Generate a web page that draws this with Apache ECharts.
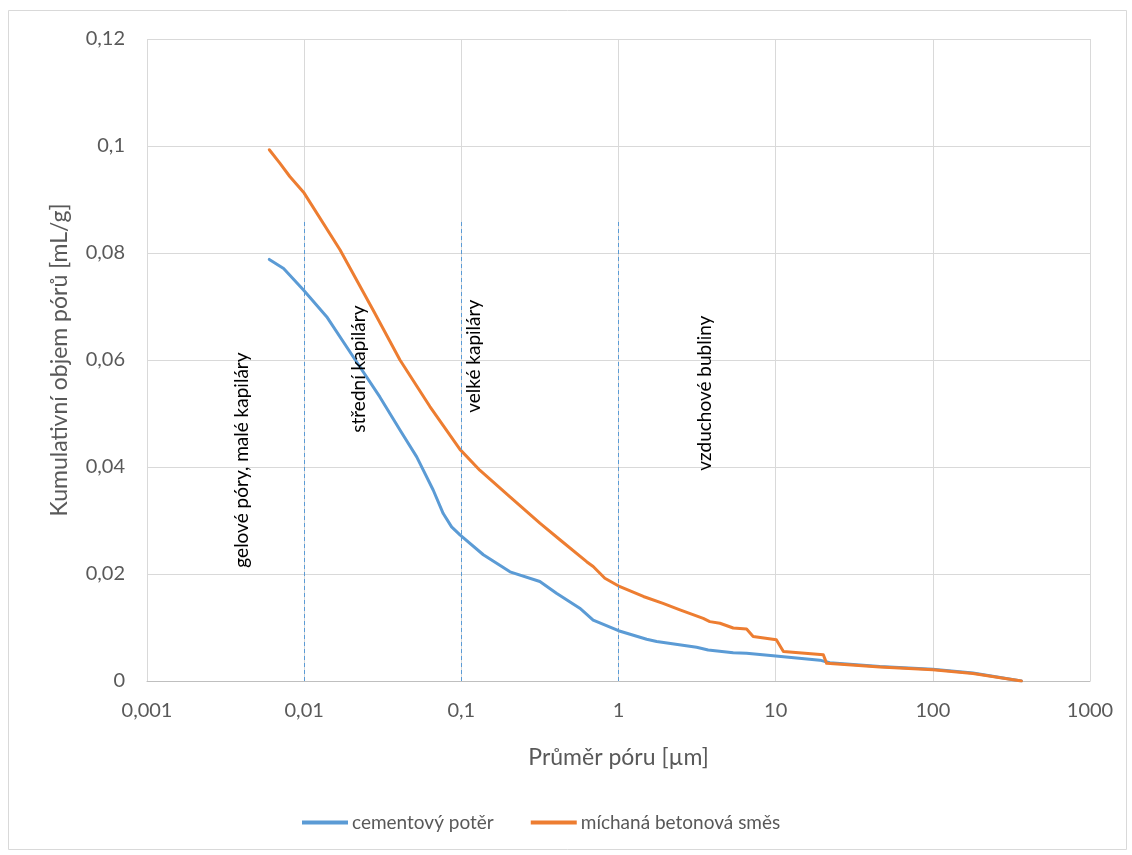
<!DOCTYPE html>
<html>
<head>
<meta charset="utf-8">
<script src="https://cdn.jsdelivr.net/npm/echarts@6.0.0/dist/echarts.min.js"></script>
<style>
  html, body { margin: 0; padding: 0; background: #fff; }
  #chart { width: 1132px; height: 855px; }
</style>
</head>
<body>
<div id="chart"></div>
<script>
// cementový potěr (blue)
var blueDiam = [0.0060, 0.0074, 0.0099, 0.0139, 0.0205, 0.0303, 0.0407, 0.0520, 0.0662, 0.0767,
  0.0867, 0.098, 0.138, 0.204, 0.316, 0.403, 0.567, 0.690, 1.0, 1.51, 1.75, 3.14, 3.72, 5.37,
  6.53, 9.64, 19.1, 22.1, 46, 100, 180, 366];
var blueVol = [0.0788, 0.0771, 0.0731, 0.0681, 0.0606, 0.0531, 0.0469, 0.0419, 0.0357, 0.0313,
  0.0288, 0.0273, 0.0236, 0.0204, 0.0186, 0.0164, 0.0136, 0.0114, 0.0094, 0.0078, 0.0074, 0.0063, 0.0058, 0.0053,
  0.0052, 0.0047, 0.0039, 0.0034, 0.0027, 0.0022, 0.0015, 0.0];

// míchaná betonová směs (orange)
var orangeDiam = [0.0060, 0.0070, 0.0081, 0.0100, 0.0169, 0.0275, 0.0407, 0.0631, 0.098, 0.131,
  0.204, 0.316, 0.424, 0.627, 0.690, 0.819, 0.995, 1.44, 1.92, 2.46, 3.46, 3.81, 4.42, 5.37,
  6.53, 7.19, 10.1, 11.2, 20.1, 21.1, 46, 100, 180, 366];
var orangeVol = [0.0993, 0.0968, 0.0943, 0.0912, 0.0806, 0.0693, 0.0600, 0.0513, 0.0433, 0.0394,
  0.0344, 0.0295, 0.0264, 0.0223, 0.0214, 0.0192, 0.0178, 0.0158, 0.0145, 0.0133, 0.0117, 0.0111, 0.0108, 0.0099,
  0.0097, 0.0083, 0.0077, 0.0055, 0.0049, 0.0033, 0.0026, 0.0021, 0.0014, 0.0];

// pore class boundaries and labels
var boundaries = [0.01, 0.1, 1];
var boundaryTop = 0.086;
var regionNames = ['gelové póry, malé kapiláry', 'střední kapiláry', 'velké kapiláry', 'vzduchové bubliny'];
var regionDiam = [0.00402, 0.0223, 0.120, 3.55];
var regionVol = [0.0413, 0.0583, 0.0607, 0.0538];

var seriesNames = ['cementový potěr', 'míchaná betonová směs'];

function pairs(xs, ys) {
  return xs.map(function (x, i) { return [x, ys[i]]; });
}
function comma(v) {
  return String(Number(v.toPrecision(6))).replace('.', ',');
}

var font = 'Lato, "Open Sans", sans-serif';
var chart = echarts.init(document.getElementById('chart'));

chart.setOption({
  animation: false,
  backgroundColor: '#fff',
  textStyle: { fontFamily: font },
  graphic: [{
    type: 'rect',
    shape: { x: 8.5, y: 10.5, width: 1118, height: 839 },
    style: { fill: 'none', stroke: '#d9d9d9', lineWidth: 1 },
    silent: true
  }],
  grid: { left: 147, right: 42, top: 39, bottom: 174 },
  legend: {
    data: seriesNames,
    left: 297,
    top: 808,
    icon: 'rect',
    itemWidth: 46,
    itemHeight: 4,
    itemGap: 37,
    textStyle: { color: '#595959', fontSize: 19, fontFamily: font, padding: [0, 0, 0, -1] }
  },
  xAxis: {
    type: 'log',
    logBase: 10,
    min: 0.001,
    max: 1000,
    name: 'Průměr póru [µm]',
    nameLocation: 'middle',
    nameGap: 65,
    nameTextStyle: { color: '#595959', fontSize: 23, fontFamily: font },
    axisLine: { show: true, lineStyle: { color: '#bfbfbf', width: 1 } },
    axisTick: { show: false },
    axisLabel: { color: '#595959', fontSize: 20, margin: 20, formatter: comma },
    splitLine: { show: true, lineStyle: { color: '#d9d9d9', width: 1 } },
    minorTick: { show: false }
  },
  yAxis: {
    type: 'value',
    min: 0,
    max: 0.12,
    interval: 0.02,
    name: 'Kumulativní objem pórů [mL/g]',
    nameLocation: 'middle',
    nameGap: 76,
    nameTextStyle: { color: '#595959', fontSize: 23, fontFamily: font },
    axisLine: { show: false },
    axisTick: { show: false },
    axisLabel: { color: '#595959', fontSize: 20, margin: 22, formatter: comma },
    splitLine: { show: true, lineStyle: { color: '#d9d9d9', width: 1 } }
  },
  series: [{
    name: seriesNames[0],
    type: 'line',
    data: pairs(blueDiam, blueVol),
    showSymbol: false,
    symbol: 'none',
    lineStyle: { color: '#5b9bd5', width: 3, cap: 'round', join: 'round' },
    itemStyle: { color: '#5b9bd5' },
    z: 3,
    markLine: {
      silent: true,
      symbol: ['none', 'none'],
      label: { show: false },
      lineStyle: { color: '#5b9bd5', width: 1, type: [4, 3] },
      data: boundaries.map(function (b) {
        return [{ coord: [b, 0] }, { coord: [b, boundaryTop] }];
      })
    },
    markPoint: {
      silent: true,
      symbol: 'rect',
      symbolSize: 1,
      itemStyle: { color: 'rgba(0,0,0,0)' },
      label: {
        show: true,
        position: 'inside',
        rotate: 90,
        color: '#000',
        fontSize: 19,
        fontFamily: font,
        formatter: function (p) { return p.name; }
      },
      data: regionNames.map(function (n, i) {
        return { name: n, coord: [regionDiam[i], regionVol[i]] };
      })
    }
  }, {
    name: seriesNames[1],
    type: 'line',
    data: pairs(orangeDiam, orangeVol),
    showSymbol: false,
    symbol: 'none',
    lineStyle: { color: '#ed7d31', width: 3, cap: 'round', join: 'round' },
    itemStyle: { color: '#ed7d31' },
    z: 4
  }]
});
</script>
</body>
</html>
